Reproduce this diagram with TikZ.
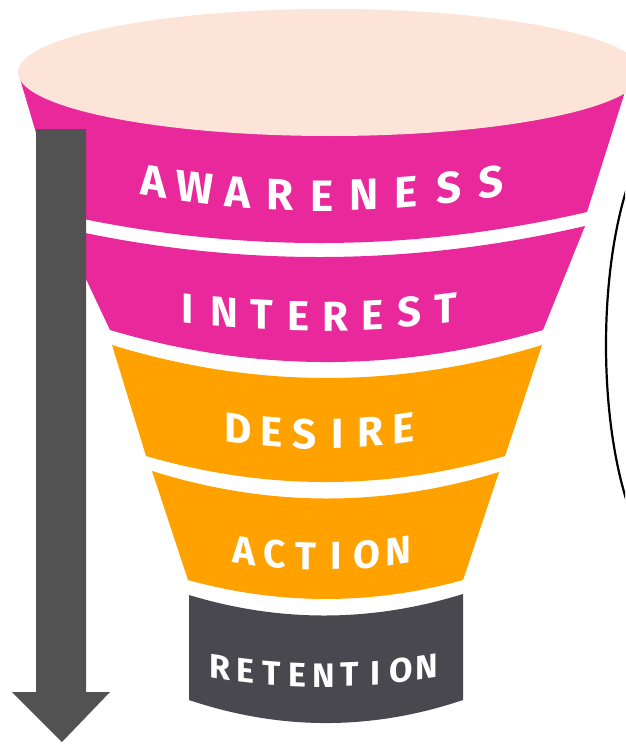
\documentclass[tikz,border=0pt]{standalone}
\usepackage{fontspec}
\newfontfamily\lblfont{Fira Sans}
\usetikzlibrary{shapes.geometric}
\definecolor{fpink}{HTML}{E8289B}
\definecolor{forange}{HTML}{FFA200}
\definecolor{fpeach}{HTML}{FCE4D8}
\definecolor{fdark}{HTML}{48484E}
\definecolor{farrow}{HTML}{525252}
\tikzset{
  lettr/.style={text=white, inner sep=0pt, anchor=base,
    font=\lblfont\bfseries\fontsize{#1}{#1}\selectfont},
  bubble/.style={draw=black, line width=2.2pt, ellipse, inner sep=0pt,
    minimum width=156pt, minimum height=460pt},
  bandpink/.style={fill=fpink},
  bandorange/.style={fill=forange},
  banddark/.style={fill=fdark},
}
% #1 name, #2 letters, #3 count, #4 x of first, #5 x of last, #6 baseline y at ends, #7 sag, #8 font size
\newcommand\arclabel[8]{%
  \foreach \lch [count=\li from 0] in {#2} {%
    \pgfmathsetmacro\lblt{\li/(#3-1)}%
    \pgfmathsetmacro\lblx{#4+(#5-#4)*\lblt}%
    \pgfmathsetmacro\lbly{#6+4*#7*\lblt*(1-\lblt)}%
    \pgfmathsetmacro\lbls{-4*#7*(1-2*\lblt)/(#5-#4)}%
    \node[lettr=#8, yslant=\lbls] (#1-\li) at (\lblx,\lbly) {\lch};
  }}
\begin{document}
\begin{tikzpicture}[x=1pt,y=-1pt]
\useasboundingbox (0,0) rectangle (625,744);
\fill[white] (0,0) rectangle (625,744);
% awareness band (top hidden under the rim ellipse)
\path[bandpink] (18,72) -- (60,214) .. controls (235.7,253.3) and (411.3,252.7) .. (587,212) -- (635,60) -- cycle;
% rim
\fill[fpeach] (330,72.5) ellipse [x radius=312, y radius=63.5];
% interest
\path[bandpink] (62,228) -- (110,330) .. controls (254.3,372.7) and (398.7,372.7) .. (543,330)
  -- (585,226) .. controls (410.7,266.7) and (236.3,267.3) .. (62,228) -- cycle;
% desire
\path[bandorange] (112,345) -- (146,456) .. controls (265.7,490.7) and (385.3,490.7) .. (505,456)
  -- (542,345) .. controls (398.7,389) and (255.3,389) .. (112,345) -- cycle;
% action
\path[bandorange] (152,471) -- (188,580) .. controls (279.7,605.3) and (371.3,605.3) .. (463,580)
  -- (499,472) .. controls (383.3,507.7) and (267.7,507.3) .. (152,471) -- cycle;
% retention
\path[banddark] (189,595) -- (189,700) .. controls (280.3,730.7) and (371.7,730.7) .. (463,700)
  -- (463,594) .. controls (371.7,622.3) and (280.3,622.7) .. (189,595) -- cycle;
% labels
\arclabel{aw}{A,W,A,R,E,N,E,S,S}{9}{153}{491}{197}{14}{44}
\arclabel{in}{I,N,T,E,R,E,S,T}{8}{188}{446}{323}{8}{42}
\arclabel{de}{D,E,S,I,R,E}{6}{238}{404}{443}{6}{42}
\arclabel{ac}{A,C,T,I,O,N}{6}{244}{398}{564}{6}{39}
\arclabel{re}{R,E,T,E,N,T,I,O,N}{9}{220}{427}{679}{8}{34}
% arrow
\fill[farrow] (36,129) -- (86,129) -- (86,692) -- (110,692) -- (62,742) -- (12,692) -- (36,692) -- cycle;
% partial bubble on the right
\begin{scope}
\clip (0,0) rectangle (625,744);
\node[bubble] (note) at (684,345) {};
\end{scope}
\end{tikzpicture}
\end{document}
